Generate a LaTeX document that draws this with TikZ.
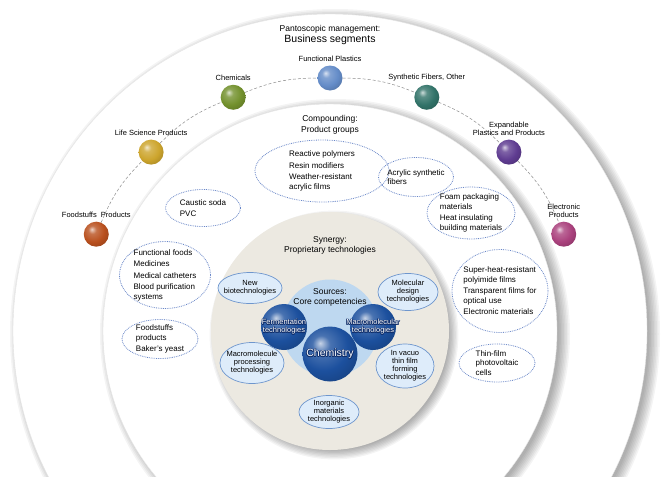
\documentclass[tikz,border=0pt]{standalone}
\usepackage{fontspec}
\setmainfont{Liberation Sans}
\usetikzlibrary{positioning}
\usetikzlibrary{shapes.geometric}

\definecolor{synbeige}{RGB}{236,233,225}
\definecolor{corefill}{RGB}{190,216,240}
\definecolor{corebase}{RGB}{28,80,158}
\definecolor{coreline}{RGB}{15,45,105}
\definecolor{techfill}{RGB}{222,236,250}
\definecolor{techline}{RGB}{110,150,205}
\definecolor{dotline}{RGB}{105,135,200}
\definecolor{foodcol}{RGB}{185,80,30}
\definecolor{lifecol}{RGB}{205,165,45}
\definecolor{chemcol}{RGB}{115,145,45}
\definecolor{funccol}{RGB}{100,140,200}
\definecolor{synthcol}{RGB}{50,115,105}
\definecolor{expcol}{RGB}{95,60,145}
\definecolor{eleccol}{RGB}{170,65,125}

\makeatletter
\pgfdeclareradialshading[tikz@ball]{gloss}{\pgfqpoint{-9bp}{10bp}}{%
  color(0bp)=(tikz@ball!25!white); color(8bp)=(tikz@ball!80!white);
  color(22bp)=(tikz@ball); color(40bp)=(tikz@ball!75!black);
  color(70bp)=(tikz@ball!55!black)}
\tikzset{gloss color/.code={\colorlet{tikz@ball}{#1}\tikzset{shade,shading=gloss}}}
\makeatother

\tikzset{
  ring shade/.style={fill=black,fill opacity=0.045},
  seg ball/.style={circle,minimum size=25pt,inner sep=0pt},
  seg label/.style={font=\fontsize{7.5}{8.5}\selectfont,align=center,inner sep=0.5pt},
  seg line/.style={densely dashed,draw=black!45,line width=0.5pt},
  head/.style={font=\fontsize{8.5}{10}\selectfont,inner sep=0.5pt},
  product/.style={ellipse,draw=dotline,densely dotted,line width=0.8pt,inner sep=-40pt,
    font=\fontsize{8}{9.5}\selectfont,align=left},
  techno/.style={ellipse,draw=techline,fill=techfill,line width=0.7pt,inner sep=-30pt,
    font=\fontsize{7.5}{8}\selectfont,align=center},
  core ball/.style={circle,gloss color=corebase,inner sep=0pt},
  core text/.style={font=\fontsize{7.5}{8}\selectfont,align=center,text=white,inner sep=0pt},
}

\begin{document}
\begin{tikzpicture}[x=1pt,y=-1pt]
\useasboundingbox (0,0) rectangle (670,477);
\clip (0,0) rectangle (670,477);
\fill[white] (0,0) rectangle (670,477);
\coordinate (c) at (330,331);

% white rings with soft shadows
\foreach \r in {317,227} {
  \foreach \i in {1,...,8}
    \fill[ring shade] ([shift={(5,3)}]c) circle[radius=\r-4+1.5*\i];
  \fill[white] (c) circle[radius=\r];
  \draw[black!10,line width=0.4pt] (c) circle[radius=\r];
}
\foreach \i in {1,...,8}
  \fill[ring shade] ([shift={(4,4)}]c) circle[radius=114+1.3*\i];
\fill[synbeige] (c) circle[radius=119];

% headings
\node[head] (panto) at (330,29) {Pantoscopic management:};
\node[head,font=\fontsize{10.5}{12}\selectfont,below=1pt of panto] (busi) {Business segments};
\node[head] (comp) at (330,119) {Compounding:};
\node[head,below=1.5pt of comp] (prodgr) {Product groups};
\node[head] (syn) at (330,240) {Synergy:};
\node[head,below=1.5pt of syn] (proptech) {Proprietary technologies};

% business segments
\node[seg ball,gloss color=foodcol] (food) at ([shift={(-157.5:253)}]c) {};
\node[seg ball,gloss color=lifecol] (life) at ([shift={(-135:253)}]c) {};
\node[seg ball,gloss color=chemcol] (chem) at ([shift={(-112.5:253)}]c) {};
\node[seg ball,gloss color=funccol] (func) at ([shift={(-90:253)}]c) {};
\node[seg ball,gloss color=synthcol] (synth) at ([shift={(-67.5:253)}]c) {};
\node[seg ball,gloss color=expcol] (expand) at ([shift={(-45:253)}]c) {};
\node[seg ball,gloss color=eleccol] (elec) at ([shift={(-22.5:253)}]c) {};

\path[seg line]
  (food) edge[bend left=11] (life)
  (life) edge[bend left=11] (chem)
  (chem) edge[bend left=11] (func)
  (func) edge[bend left=11] (synth)
  (synth) edge[bend left=11] (expand)
  (expand) edge[bend left=11] (elec);

\node[seg label,above=3pt of food] (foodlab) {Foodstuffs\ \ Products};
\node[seg label,above=3pt of life] (lifelab) {Life Science Products};
\node[seg label,above=3pt of chem] (chemlab) {Chemicals};
\node[seg label,above=3pt of func] (funclab) {Functional Plastics};
\node[seg label,above=3pt of synth] (synthlab) {Synthetic Fibers, Other};
\node[seg label,above=3pt of expand] (explab) {Expandable\\Plastics and Products};
\node[seg label,above=3pt of elec] (eleclab) {Electronic\\Products};

% product groups
\node[product,minimum width=134pt,minimum height=62pt] (react) at (322,171)
  {Reactive polymers\\[2pt]Resin modifiers\\[2pt]Weather-resistant\\acrylic films};
\node[product,minimum width=75pt,minimum height=37pt] (caustic) at (203,208)
  {Caustic soda\\[2pt]PVC};
\node[product,minimum width=75pt,minimum height=39pt] (acryl) at (416,177)
  {Acrylic synthetic\\fibers};
\node[product,minimum width=88pt,minimum height=52pt] (foam) at (471,213)
  {Foam packaging\\materials\\[2pt]Heat insulating\\building materials};
\node[product,minimum width=91pt,minimum height=67pt] (medic) at (165,275)
  {Functional foods\\[2pt]Medicines\\[2pt]Medical catheters\\[2pt]Blood purification\\systems};
\node[product,minimum width=76pt,minimum height=39pt] (yeast) at (160,339)
  {Foodstuffs\\products\\[2pt]Baker's yeast};
\node[product,minimum width=96pt,minimum height=83pt] (films) at (500,291)
  {Super-heat-resistant\\polyimide films\\[2pt]Transparent films for\\optical use\\[2pt]Electronic materials};
\node[product,minimum width=76pt,minimum height=38pt] (thin) at (497,363)
  {Thin-film\\photovoltaic\\cells};

% proprietary technologies
\node[techno,minimum width=64pt,minimum height=31pt] (newbio) at (250,288) {New\\biotechnologies};
\node[techno,minimum width=60pt,minimum height=37pt] (moldes) at (408,292) {Molecular\\design\\technologies};
\node[techno,minimum width=64pt,minimum height=41pt] (mproc) at (252,363) {Macromolecule\\processing\\technologies};
\node[techno,minimum width=58pt,minimum height=44pt] (vacuo) at (405,366) {In vacuo\\thin film\\forming\\technologies};
\node[techno,minimum width=60pt,minimum height=33pt] (inorg) at (329,412) {Inorganic\\materials\\technologies};

% core competencies
\node[circle,fill=corefill,minimum size=97pt,inner sep=0pt] (core) at (330,328) {};
\node[head] (src) at (330,292) {Sources:};
\node[head,below=1.5pt of src] (corecomp) {Core competencies};
\node[core ball,minimum size=46pt] (ferm) at (284,327) {};
\node[core ball,minimum size=46pt] (macro) at (373,327) {};
\node[core ball,minimum size=55pt] (chemis) at (330,354) {};

\foreach \a in {0,45,...,315} {
  \node[core text,text=coreline] (fermo\a) at ([shift={(\a:0.6)}]ferm) {Fermentation\\technologies};
  \node[core text,text=coreline] (macroo\a) at ([shift={(\a:0.6)}]macro) {Macromolecular\\technologies};
  \node[core text,text=coreline,font=\fontsize{10.5}{12}\selectfont] (chemo\a) at ([shift={(\a:0.7)}]chemis) {Chemistry};
}
\node[core text] (fermtxt) at (ferm) {Fermentation\\technologies};
\node[core text] (macrotxt) at (macro) {Macromolecular\\technologies};
\node[core text,font=\fontsize{10.5}{12}\selectfont] (chemtxt) at (chemis) {Chemistry};
\end{tikzpicture}
\end{document}
